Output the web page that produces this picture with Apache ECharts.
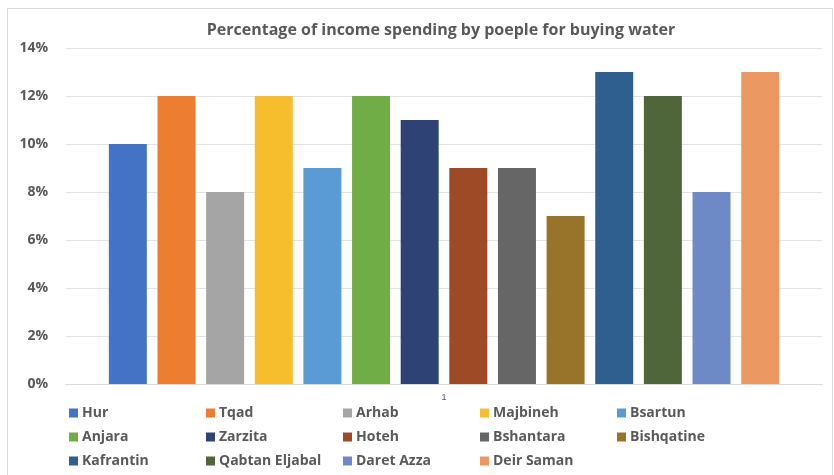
<!DOCTYPE html>
<html>
<head>
<meta charset="utf-8">
<script src="https://cdn.jsdelivr.net/npm/echarts@6/dist/echarts.min.js"></script>
<style>
  html, body { margin: 0; padding: 0; background: #fff; }
  #chart { width: 834px; height: 475px; }
</style>
</head>
<body>
<div id="chart"></div>
<script>
// villages (one series each) and their share of income spent on water, in %
const villages = ['Hur', 'Tqad', 'Arhab', 'Majbineh', 'Bsartun', 'Anjara', 'Zarzita',
  'Hoteh', 'Bshantara', 'Bishqatine', 'Kafrantin', 'Qabtan Eljabal', 'Daret Azza', 'Deir Saman']
const percents = [10, 12, 8, 12, 9, 12, 11, 9, 9, 7, 13, 12, 8, 13]
const categories = ['1']
const colors = ['#4472C4', '#ED7D31', '#A5A5A5', '#F6BE2C', '#5B9BD5', '#70AD47', '#2E4374',
  '#9E4A26', '#666666', '#977429', '#2F5F8E', '#4F663B', '#6D8AC7', '#EB9862']

const chart = echarts.init(document.getElementById('chart'))
const txt = '#595959'

const series = villages.map((name, i) => ({
  name: name,
  type: 'bar',
  data: [percents[i]],
  barWidth: 38,
  barGap: '28%',
  itemStyle: { color: colors[i] }
}))

// legend laid out as a 5-column grid, one component per entry
const legends = villages.map((name, i) => ({
  data: [name],
  left: 69 + (i % 5) * 137,
  top: 406 + Math.floor(i / 5) * 24,
  itemWidth: 9,
  itemHeight: 9,
  icon: 'rect',
  padding: 0,
  textStyle: { color: txt, fontSize: 14, fontWeight: 'bold', fontFamily: 'Open Sans', padding: [0, 0, 0, -1] },
  selectedMode: false
}))

chart.setOption({
  animation: false,
  color: colors,
  title: {
    text: 'Percentage of income spending by poeple for buying water',
    left: 436,
    textAlign: 'center',
    top: 17,
    textStyle: { color: txt, fontSize: 16, fontWeight: 'bold', fontFamily: 'Open Sans' }
  },
  graphic: [{
    type: 'rect',
    shape: { x: 7.5, y: 8.5, width: 825, height: 470 },
    style: { fill: 'none', stroke: '#d9d9d9', lineWidth: 1 },
    silent: true
  }],
  legend: legends,
  grid: { left: 66, right: 12, top: 48, bottom: 91 },
  xAxis: {
    type: 'category',
    data: categories,
    axisLine: { lineStyle: { color: '#d9d9d9' } },
    axisTick: { show: false },
    axisLabel: { color: txt, fontSize: 9, margin: 9 }
  },
  yAxis: {
    type: 'value',
    min: 0,
    max: 14,
    interval: 2,
    axisLabel: {
      formatter: '{value}%',
      color: txt,
      fontSize: 14,
      fontWeight: 'bold',
      fontFamily: 'Open Sans',
      margin: 18
    },
    splitLine: { lineStyle: { color: '#e3e3e3' } },
    axisLine: { show: false },
    axisTick: { show: false }
  },
  series: series
})
</script>
</body>
</html>
